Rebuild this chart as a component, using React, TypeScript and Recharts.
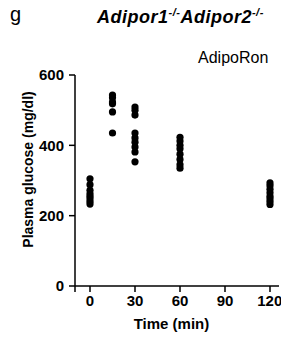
import React from 'react';
import { ScatterChart, Scatter, XAxis, YAxis } from 'recharts';

const timePoints = [0, 15, 30, 60, 120];
const glucose0 = [305, 288, 272, 262, 255, 248, 240, 233];
const glucose15 = [543, 535, 523, 518, 495, 435];
const glucose30 = [509, 500, 486, 435, 421, 409, 395, 381, 353];
const glucose60 = [423, 412, 400, 390, 375, 360, 345, 335];
const glucose120 = [293, 285, 275, 265, 255, 248, 240, 232];
const xTicks = [-10, 0, 30, 60, 90, 120];
const yTicks = [0, 200, 400, 600];

const series = [glucose0, glucose15, glucose30, glucose60, glucose120];
const data = series.flatMap((vals, i) => vals.map((v) => ({ x: timePoints[i], y: v })));

const FONT = 'Liberation Sans, Arial, sans-serif';

const Dot = (props: any) => <circle cx={props.cx} cy={props.cy} r={3.6} fill="#000" />;

export default function App() {
  return (
    <div style={{ position: 'absolute', left: 0, top: 0, width: 281, height: 342, background: '#fff' }}>
      <ScatterChart width={281} height={342} margin={{ top: 75, right: 2, bottom: 0, left: 0 }}>
        <XAxis
          type="number"
          dataKey="x"
          domain={[-10, 126]}
          ticks={xTicks}
          tickFormatter={(v: number) => (v === -10 ? '' : String(v))}
          allowDataOverflow
          height={56}
          tickSize={6}
          tickMargin={3}
          stroke="#000"
          strokeWidth={1.5}
          tick={{ fill: '#000', fontSize: 15, fontWeight: 'bold', fontFamily: FONT }}
        />
        <YAxis
          type="number"
          dataKey="y"
          domain={[0, 600]}
          ticks={yTicks}
          width={75}
          tickSize={6}
          tickMargin={5}
          stroke="#000"
          strokeWidth={1.5}
          tick={{ fill: '#000', fontSize: 15, fontWeight: 'bold', fontFamily: FONT }}
        />
        <Scatter data={data} fill="#000" shape={Dot} isAnimationActive={false} />
      </ScatterChart>
      <svg width={281} height={342} style={{ position: 'absolute', left: 0, top: 0, pointerEvents: 'none' }}>
        <text x={10} y={21} fontFamily={FONT} fontSize={20} fill="#000">g</text>
        <text x={97} y={23} fontFamily={FONT} fontSize={18} fontWeight="bold" fontStyle="italic" letterSpacing={0.5} fill="#000">
          Adipor1<tspan fontSize={11} dy={-7}>-/-</tspan><tspan dy={7}>Adipor2</tspan><tspan fontSize={11} dy={-7}>-/-</tspan>
        </text>
        <text x={198} y={63} fontFamily={FONT} fontSize={16} fill="#000">AdipoRon</text>
        <text x={171.5} y={329} textAnchor="middle" fontFamily={FONT} fontSize={15} fontWeight="bold" fill="#000">Time (min)</text>
        <text x={33} y={169.5} textAnchor="middle" transform="rotate(-90 33 169.5)" fontFamily={FONT} fontSize={14} fontWeight="bold" fill="#000">Plasma glucose (mg/dl)</text>
      </svg>
    </div>
  );
}
